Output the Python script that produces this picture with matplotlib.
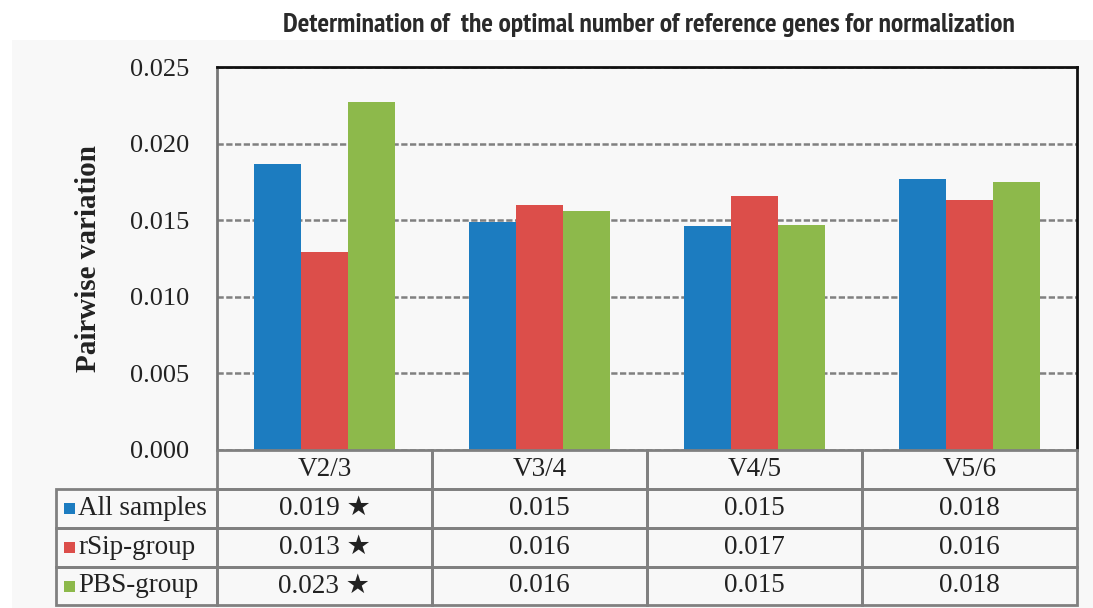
import matplotlib
matplotlib.use("Agg")
import matplotlib.pyplot as plt
import numpy as np
from matplotlib.patches import Rectangle
from matplotlib.transforms import blended_transform_factory
from matplotlib import font_manager
from matplotlib.font_manager import FontProperties

categories = ["V2/3", "V3/4", "V4/5", "V5/6"]
series_names = ["All samples", "rSip-group", "PBS-group"]
all_samples = [0.0187, 0.0149, 0.0146, 0.0177]
rsip_group = [0.0129, 0.0160, 0.0166, 0.0163]
pbs_group = [0.0227, 0.0156, 0.0147, 0.0175]
table_all = ["0.019 ★", "0.015", "0.015", "0.018"]
table_rsip = ["0.013 ★", "0.016", "0.017", "0.016"]
table_pbs = ["0.023 ★", "0.016", "0.015", "0.018"]
yticks = [0.000, 0.005, 0.010, 0.015, 0.020, 0.025]
title = "Determination of  the optimal number of reference genes for normalization"
ylabel = "Pairwise variation"

colors = ["#1c7cc0", "#dc4e4a", "#8db94b"]
series = [all_samples, rsip_group, pbs_group]
table_rows = [table_all, table_rsip, table_pbs]


def _wt(f):
    w = f.weight
    if isinstance(w, str):
        return {"bold": 700, "heavy": 800, "black": 900, "semibold": 600,
                "demibold": 600, "normal": 400, "regular": 400}.get(w.lower(), 400)
    return int(w)


def _is_cond(f):
    s = f.stretch
    if "Condensed" in f.name or "Narrow" in f.name:
        return True
    if isinstance(s, str):
        return "condensed" in s
    return s < 100


cands = [f for f in font_manager.fontManager.ttflist
         if _is_cond(f) and 650 <= _wt(f) <= 800 and f.style == "normal"]


def _rank(f):
    n = f.name + " " + f.fname
    if "Narrow" in n:
        return 0
    if "SemiCondensed" in n:
        return 3
    if "Condensed" in n:
        return 1
    return 2


cands.sort(key=lambda f: (_rank(f), abs(_wt(f) - 700)))
if cands:
    title_fp = FontProperties(fname=cands[0].fname, size=16)
else:
    title_fp = FontProperties(family="DejaVu Sans", weight="bold", stretch="condensed", size=16)

W, H = 1093, 608
fig = plt.figure(figsize=(W / 100, H / 100), dpi=100)
fig.patch.set_facecolor("white")
fig.add_artist(Rectangle((12 / W, 0), 1, (H - 40) / H, transform=fig.transFigure,
                         facecolor="#f8f8f8", edgecolor="none", zorder=-10))


def fy(py):
    return (H - py) / H


ax = fig.add_axes([217 / W, fy(450), (1077 - 217) / W, (450 - 67) / H])
ax.set_facecolor("#f8f8f8")

x = np.arange(len(categories))
bw = 0.22
for i, (vals, c) in enumerate(zip(series, colors)):
    ax.bar(x + (i - 1) * bw, vals, width=bw, color=c, edgecolor="none", zorder=3)

ax.set_xlim(-0.5, len(categories) - 0.5)
ax.set_ylim(0, 0.025)
ax.set_yticks(yticks)
ax.set_yticklabels([f"{v:.3f}" for v in yticks], family="Liberation Serif",
                   fontsize=19, color="#222222")
ax.tick_params(axis="y", length=0, pad=20)
ax.set_xticks([])
ax.yaxis.grid(True, linestyle=(0, (2.5, 1)), color="#808080", linewidth=1.8, zorder=1)
for s in ["top", "right"]:
    ax.spines[s].set_color("#111111")
    ax.spines[s].set_linewidth(2)
ax.spines["left"].set_color("#777777")
ax.spines["left"].set_linewidth(2)
ax.spines["bottom"].set_visible(False)

ax.set_ylabel(ylabel, family="Liberation Serif", fontweight="bold", fontsize=21,
              color="#222222", labelpad=20)

t = fig.text(649 / W, fy(25), title, ha="center", va="center",
             fontproperties=title_fp, color="#2a2a2a")
fig.canvas.draw()
bb = t.get_window_extent()
t.set_fontsize(16 * 732 / bb.width)

# table
tr = blended_transform_factory(ax.transData, fig.transFigure)
rows_px = [450, 489, 528, 567, 605]
lab_left = -0.5 - (217 - 56) / 215
gc = "#808080"
lw = 2


def cell(x0, x1, y0, y1):
    fig.add_artist(Rectangle((x0, fy(y1)), x1 - x0, fy(y0) - fy(y1), transform=tr,
                             facecolor="none", edgecolor=gc, linewidth=lw, zorder=5,
                             clip_on=False))


for j, cat in enumerate(categories):
    cell(j - 0.5, j + 0.5, rows_px[0], rows_px[1])
    fig.text(j, fy((rows_px[0] + rows_px[1]) / 2), cat, transform=tr, ha="center",
             va="center", family="Liberation Serif", fontsize=19.5, color="#222222")

for r, (name, c, vals) in enumerate(zip(series_names, colors, table_rows)):
    y0, y1 = rows_px[r + 1], rows_px[r + 2]
    yc = fy((y0 + y1) / 2)
    cell(lab_left, -0.5, y0, y1)
    sq = 11
    fig.add_artist(Rectangle((64 / W, yc - sq / 2 / H), sq / W, sq / H, transform=fig.transFigure,
                             facecolor=c, edgecolor="none", zorder=6))
    fig.text(78 / W, yc, name, ha="left", va="center", family="Liberation Serif",
             fontsize=19.5, color="#222222")
    for j, v in enumerate(vals):
        cell(j - 0.5, j + 0.5, y0, y1)
        fig.text(j, yc, v, transform=tr, ha="center", va="center",
                 family=["Liberation Serif", "DejaVu Sans"], fontsize=19.5, color="#222222")

fig.savefig("out.png", dpi=100, facecolor=fig.get_facecolor())
